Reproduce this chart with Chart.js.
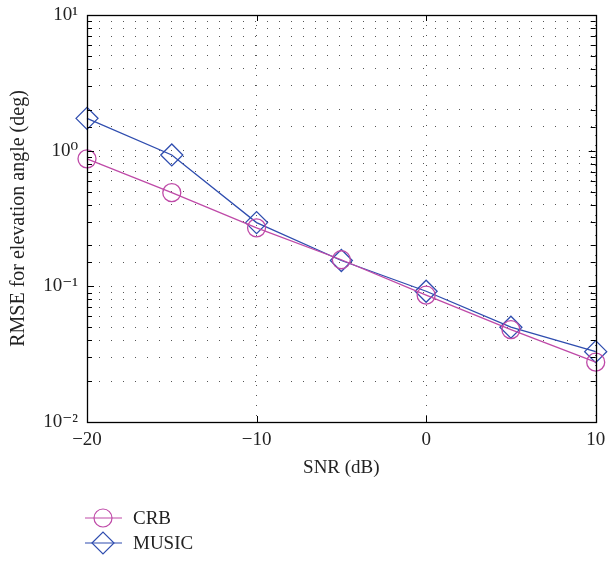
<!DOCTYPE html>
<html>
<head>
<meta charset="utf-8">
<script src="https://cdn.jsdelivr.net/npm/chart.js@4/dist/chart.umd.min.js"></script>
<style>
html,body{margin:0;padding:0;background:#fff;}
#wrap{width:608px;height:563px;}
</style>
</head>
<body>
<div id="wrap"><canvas id="c" width="608" height="563"></canvas></div>
<script>
const snr = [-20, -15, -10, -5, 0, 5, 10];
const crb = [0.87, 0.49, 0.27, 0.157, 0.086, 0.048, 0.0276];
const music = [1.73, 0.93, 0.295, 0.155, 0.092, 0.050, 0.033];
const xTicks = [-20, -10, 0, 10];
const seriesNames = ['CRB', 'MUSIC'];

const FONT = '"Liberation Serif", "DejaVu Serif", serif';
const CRB_COLOR = '#bf4aa8';
const MUSIC_COLOR = '#2f4daf';

const supMap = {'-':'\u207B','0':'\u2070','1':'\u00B9','2':'\u00B2','3':'\u00B3'};
function powLabel(v){
  const e = Math.round(Math.log10(v));
  return '10' + String(e).split('').map(c => supMap[c]).join('');
}
function isMajor(v){
  const l = Math.log10(v);
  return Math.abs(l - Math.round(l)) < 1e-9;
}

const framePlugin = {
  id: 'frame',
  afterDraw(chart){
    const ctx = chart.ctx, a = chart.chartArea;
    const xs = chart.scales.x, ys = chart.scales.y;
    ctx.save();
    ctx.strokeStyle = '#000';
    ctx.lineWidth = 1;
    ctx.beginPath();
    ys.ticks.forEach(t => {
      const y = Math.round(ys.getPixelForValue(t.value)) + 0.5;
      const len = isMajor(t.value) ? 7 : 5;
      ctx.moveTo(a.left, y); ctx.lineTo(a.left + len, y);
      ctx.moveTo(a.right, y); ctx.lineTo(a.right - len, y);
    });
    xs.ticks.forEach(t => {
      const x = Math.round(xs.getPixelForValue(t.value)) + 0.5;
      ctx.moveTo(x, a.bottom); ctx.lineTo(x, a.bottom - 6);
      ctx.moveTo(x, a.top); ctx.lineTo(x, a.top + 6);
    });
    ctx.stroke();
    ctx.lineWidth = 1.3;
    ctx.strokeRect(Math.round(a.left) + 0.5, Math.round(a.top) + 0.5,
                   Math.round(a.right - a.left), Math.round(a.bottom - a.top));
    // legend
    const items = chart.data.datasets;
    const lx0 = 85, lx1 = 122, mx = 103, tx = 133;
    const ly = [518, 543];
    items.forEach((ds, i) => {
      const y = ly[i];
      ctx.strokeStyle = ds.borderColor;
      ctx.fillStyle = 'rgba(0,0,0,0)';
      ctx.lineWidth = 1.2;
      ctx.beginPath(); ctx.moveTo(lx0, y); ctx.lineTo(lx1, y); ctx.stroke();
      Chart.helpers.drawPoint(ctx, {pointStyle: ds.pointStyle, rotation: 0, borderWidth: 1.2,
        radius: ds.pointRadius}, mx, y);
      ctx.fillStyle = '#222';
      ctx.font = '19px ' + FONT;
      ctx.textBaseline = 'middle';
      ctx.textAlign = 'left';
      ctx.fillText(ds.label, tx, y + 1);
    });
    ctx.restore();
  }
};

new Chart(document.getElementById('c'), {
  type: 'line',
  data: {
    labels: snr,
    datasets: [
      {
        label: seriesNames[0],
        data: snr.map((x, i) => ({x: x, y: crb[i]})),
        borderColor: CRB_COLOR,
        backgroundColor: 'rgba(0,0,0,0)',
        borderWidth: 1.3,
        pointStyle: 'circle',
        pointRadius: 9,
        pointBorderWidth: 1.3,
        pointBackgroundColor: 'rgba(0,0,0,0)',
        pointBorderColor: CRB_COLOR,
        tension: 0,
        clip: false
      },
      {
        label: seriesNames[1],
        data: snr.map((x, i) => ({x: x, y: music[i]})),
        borderColor: MUSIC_COLOR,
        backgroundColor: 'rgba(0,0,0,0)',
        borderWidth: 1.3,
        pointStyle: 'rectRot',
        pointRadius: 11,
        pointBorderWidth: 1.3,
        pointBackgroundColor: 'rgba(0,0,0,0)',
        pointBorderColor: MUSIC_COLOR,
        tension: 0,
        clip: false
      }
    ]
  },
  options: {
    responsive: false,
    animation: false,
    devicePixelRatio: 1,
    layout: {padding: {top: 15, right: 11, bottom: 84, left: 0}},
    plugins: {legend: {display: false}, tooltip: {enabled: false}},
    scales: {
      x: {
        type: 'linear',
        min: -20, max: 10,
        afterBuildTicks(s){ s.ticks = xTicks.map(v => ({value: v})); },
        afterFit(s){ s.height = 57; s.paddingLeft = 0; s.paddingRight = 0; },
        ticks: {
          color: '#222',
          font: {family: FONT, size: 19},
          padding: 7,
          maxRotation: 0,
          autoSkip: false,
          callback: v => (v < 0 ? '\u2212' + Math.abs(v) : String(v))
        },
        grid: {color: '#555', lineWidth: 1, drawTicks: false},
        border: {display: false, dash: [1, 9]},
        title: {display: true, text: 'SNR (dB)', color: '#222',
                font: {family: FONT, size: 19}, padding: {top: 4, bottom: 0}}
      },
      y: {
        type: 'logarithmic',
        min: 0.01, max: 10,
        afterFit(s){ s.width = 87; s.paddingTop = 0; s.paddingBottom = 0; },
        ticks: {
          color: '#222',
          font: {family: FONT, size: 19},
          padding: 9,
          autoSkip: false,
          callback: v => (isMajor(v) ? powLabel(v) : '')
        },
        grid: {color: '#555', lineWidth: 1, drawTicks: false},
        border: {display: false, dash: [1, 11]},
        title: {display: true, text: 'RMSE for elevation angle (deg)', color: '#222',
                font: {family: FONT, size: 20}, padding: {top: 7, bottom: 0}}
      }
    }
  },
  plugins: [framePlugin]
});
</script>
</body>
</html>
